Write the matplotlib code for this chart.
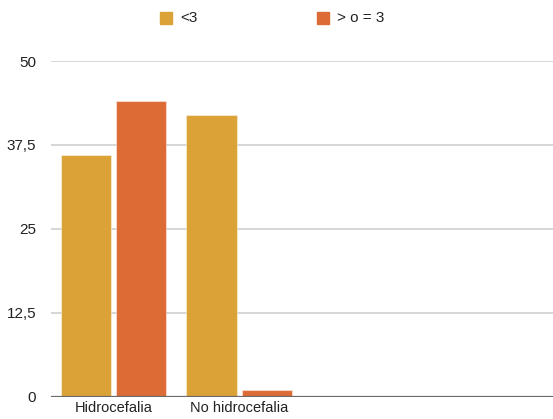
import numpy as np
import matplotlib.pyplot as plt
from matplotlib.patches import Rectangle

categories = ['Hidrocefalia', 'No hidrocefalia', '', '']
series_names = ['<3', '> o = 3']
menor_3 = [36, 42, None, None]
mayor_igual_3 = [44, 1, None, None]
y_ticks = [0, 12.5, 25, 37.5, 50]
y_labels = ['0', '12,5', '25', '37,5', '50']

gold = '#dba237'
orange = '#dd6b35'

plt.rcParams['font.family'] = ['Liberation Sans', 'DejaVu Sans']

fig = plt.figure(figsize=(5.53, 4.19), dpi=100)
ax = fig.add_axes([0.0917, 0.0532, 0.9083, 0.8012])

x = np.arange(len(categories))
w = 0.4
off = 0.22
for vals, col, d in [(menor_3, gold, -off), (mayor_igual_3, orange, off)]:
    xs = [xi + d for xi, v in zip(x, vals) if v is not None]
    hs = [v for v in vals if v is not None]
    ax.bar(xs, hs, width=w, color=col, edgecolor=(1, 1, 1, 0.45), linewidth=0.8, zorder=3)

ax.set_xlim(-0.5, len(categories) - 0.5)
ax.set_ylim(0, 50)
ax.set_yticks(y_ticks)
ax.set_yticklabels(y_labels, fontsize=11, color='#222222')
ax.set_xticks(x[:2])
ax.set_xticklabels(categories[:2], fontsize=10.5, color='#222222')
ax.tick_params(axis='both', length=0)
ax.tick_params(axis='y', pad=10.5)
ax.tick_params(axis='x', pad=3)

for t in y_ticks[1:]:
    ax.axhline(t, color='#d0d0d0', linewidth=1.2, zorder=1)
ax.axhline(0, color='#6a6a6a', linewidth=1.6, zorder=4)
for s in ax.spines.values():
    s.set_visible(False)

# legend drawn by hand across the top
for name, col, lx in [(series_names[0], gold, 160), (series_names[1], orange, 317)]:
    fig.patches.append(Rectangle((lx / 553, 1 - 24 / 419), 12 / 553, 12 / 419,
                                 transform=fig.transFigure, color=col))
    fig.text((lx + 20) / 553, 1 - 18 / 419, name, fontsize=11, va='center',
             ha='left', color='#222222')

fig.savefig('out.png', dpi=100)
